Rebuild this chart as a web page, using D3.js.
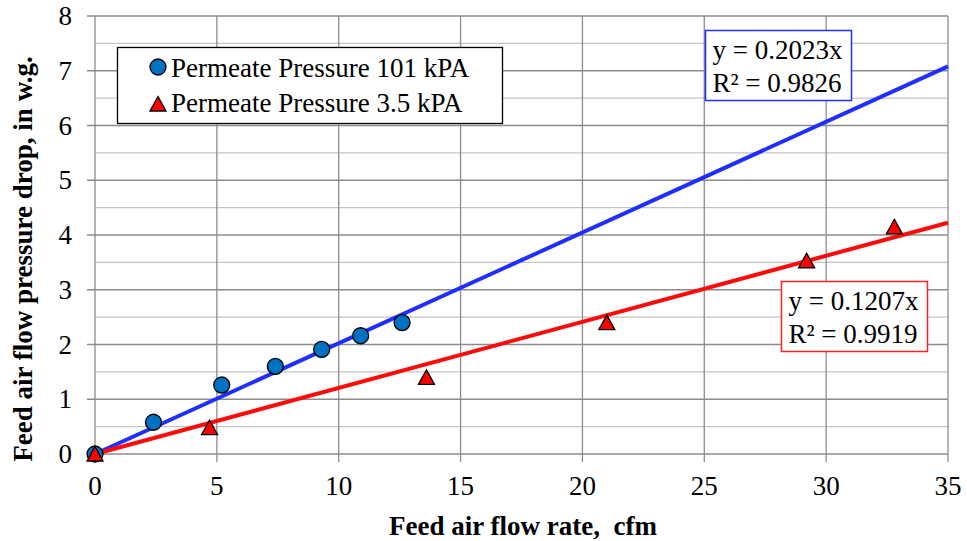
<!DOCTYPE html>
<html><head><meta charset="utf-8">
<script src="https://cdn.jsdelivr.net/npm/d3@7"></script>
<style>body{margin:0;background:#fff}svg{display:block}</style>
</head><body>
<script>
const blueX = [0, 2.4, 5.2, 7.4, 9.3, 10.9, 12.6];
const blueY = [0, 0.58, 1.26, 1.6, 1.91, 2.16, 2.4];
const redX = [0, 4.7, 13.6, 21.0, 29.2, 32.8];
const redY = [0, 0.48, 1.40, 2.40, 3.53, 4.15];
const blueSlope = 0.2023, blueR2 = 0.9826;
const redSlope = 0.1207, redR2 = 0.9919;
const xTicks = [0, 5, 10, 15, 20, 25, 30, 35];
const yTicks = [0, 1, 2, 3, 4, 5, 6, 7, 8];
const yMinor = [0.5, 1.5, 2.5, 3.5, 4.5, 5.5, 6.5, 7.5];
const legendLabels = ["Permeate Pressure 101 kPA", "Permeate Pressure 3.5 kPA"];

const W = 967, H = 541;
const m = {l: 95, r: 19, t: 16, b: 87};
const svg = d3.select("body").append("svg").attr("width", W).attr("height", H);
const x = d3.scaleLinear().domain([0, 35]).range([m.l, W - m.r]);
const y = d3.scaleLinear().domain([0, 8]).range([H - m.b, m.t]);
const font = "Times New Roman, Liberation Serif, Tinos, serif";
const FS = 27;

const g = svg.append("g");
g.selectAll(".ym").data(yMinor).join("line")
  .attr("x1", x(0)).attr("x2", x(35)).attr("y1", d => y(d)).attr("y2", d => y(d))
  .attr("stroke", "#c4c4c4").attr("stroke-width", 1.3);
g.selectAll(".yg").data(yTicks).join("line")
  .attr("x1", x(0) - 8).attr("x2", x(35)).attr("y1", d => y(d)).attr("y2", d => y(d))
  .attr("stroke", "#8c8c8c").attr("stroke-width", 1.3);
g.selectAll(".xg").data(xTicks).join("line")
  .attr("x1", d => x(d)).attr("x2", d => x(d)).attr("y1", y(8)).attr("y2", y(0) + 8)
  .attr("stroke", "#8c8c8c").attr("stroke-width", 1.3);

g.selectAll(".yl").data(yTicks).join("text")
  .attr("x", 72).attr("y", d => y(d)).attr("dy", "0.34em")
  .attr("text-anchor", "end").style("font-family", font).attr("font-size", FS)
  .text(d => d);
g.selectAll(".xl").data(xTicks).join("text")
  .attr("x", d => x(d)).attr("y", 495)
  .attr("text-anchor", "middle").style("font-family", font).attr("font-size", FS)
  .text(d => d);

svg.append("text").attr("x", 523).attr("y", 535)
  .attr("text-anchor", "middle").style("font-family", font).attr("font-size", FS)
  .attr("font-weight", "bold").style("white-space", "pre")
  .text("Feed air flow rate,  cfm");
svg.append("text").attr("transform", "translate(32,259) rotate(-90)")
  .attr("text-anchor", "middle").style("font-family", font).attr("font-size", FS)
  .attr("font-weight", "bold").text("Feed air flow pressure drop, in w.g.");

const line = d3.line().x(d => x(d[0])).y(d => y(d[1]));
g.append("path").datum([[0, 0], [35, 35 * blueSlope]]).attr("d", line)
  .attr("stroke", "#1f2fff").attr("stroke-width", 4).attr("fill", "none");
g.append("path").datum([[0, 0], [35, 35 * redSlope]]).attr("d", line)
  .attr("stroke", "#ff0a0a").attr("stroke-width", 4).attr("fill", "none");

const blue = blueX.map((v, i) => [v, blueY[i]]);
const red = redX.map((v, i) => [v, redY[i]]);
g.selectAll(".bc").data(blue).join("circle")
  .attr("cx", d => x(d[0])).attr("cy", d => y(d[1])).attr("r", 8)
  .attr("fill", "#0070c0").attr("stroke", "#000").attr("stroke-width", 1.3);
const tri = "M0,-7.5L8,7L-8,7Z";
g.selectAll(".rt").data(red).join("path")
  .attr("transform", d => `translate(${x(d[0])},${y(d[1])})`).attr("d", tri)
  .attr("fill", "#ff0000").attr("stroke", "#000").attr("stroke-width", 1.3)
  .attr("stroke-linejoin", "miter");

const lg = svg.append("g");
lg.append("rect").attr("x", 117.5).attr("y", 47.5).attr("width", 385).attr("height", 76)
  .attr("fill", "#fff").attr("stroke", "#000").attr("stroke-width", 1.3);
lg.append("circle").attr("cx", 158).attr("cy", 67).attr("r", 8)
  .attr("fill", "#0070c0").attr("stroke", "#000").attr("stroke-width", 1.3);
lg.append("path").attr("transform", "translate(158,104)").attr("d", tri)
  .attr("fill", "#ff0000").attr("stroke", "#000").attr("stroke-width", 1.3);
lg.selectAll(".lt").data(legendLabels).join("text")
  .attr("x", 171).attr("y", (d, i) => 77 + i * 35)
  .style("font-family", font).attr("font-size", FS).text(d => d);

function eqBox(bx, by, bw, bh, color, slope, r2) {
  const e = svg.append("g");
  e.append("rect").attr("x", bx).attr("y", by).attr("width", bw).attr("height", bh)
    .attr("fill", "#fff").attr("stroke", color).attr("stroke-width", 1.5);
  e.append("text").attr("x", bx + 7).attr("y", by + 28.5).style("font-family", font)
    .attr("font-size", FS).text(`y = ${slope.toFixed(4)}x`);
  e.append("text").attr("x", bx + 7).attr("y", by + 61.5).style("font-family", font)
    .attr("font-size", FS).text(`R² = ${r2.toFixed(4)}`);
}
eqBox(705.5, 30.5, 146, 70, "#1f2fff", blueSlope, blueR2);
eqBox(781.5, 281.5, 146, 70, "#ff2020", redSlope, redR2);
</script>
</body></html>
